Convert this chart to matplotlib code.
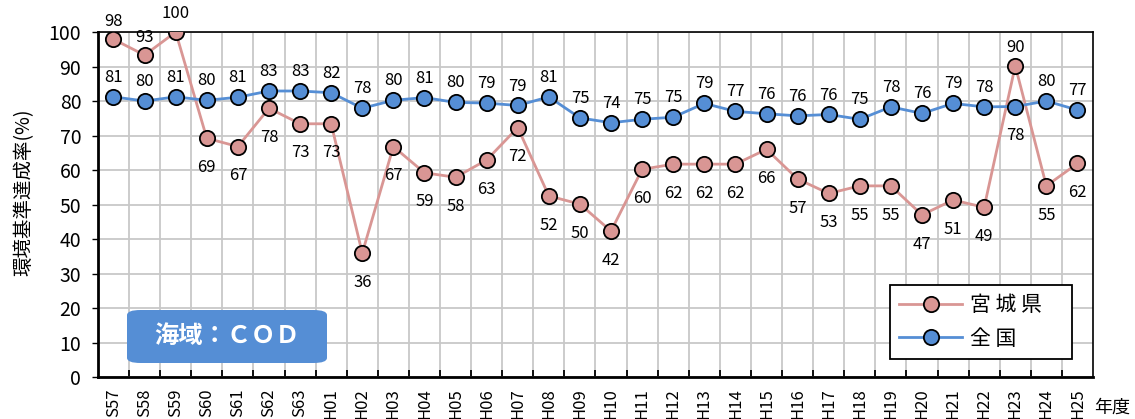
import matplotlib
matplotlib.use("Agg")
import matplotlib.pyplot as plt
from matplotlib.patches import FancyBboxPatch

plt.rcParams['font.family'] = ['Noto Sans CJK JP', 'DejaVu Sans']

years = ['S57', 'S58', 'S59', 'S60', 'S61', 'S62', 'S63',
         'H01', 'H02', 'H03', 'H04', 'H05', 'H06', 'H07', 'H08', 'H09', 'H10',
         'H11', 'H12', 'H13', 'H14', 'H15', 'H16', 'H17', 'H18', 'H19', 'H20',
         'H21', 'H22', 'H23', 'H24', 'H25']

miyagi = [97.9, 93.3, 100.0, 69.2, 66.8, 77.9, 73.4, 73.4, 35.9, 66.8, 59.2,
          57.9, 62.9, 72.3, 52.5, 50.1, 42.3, 60.2, 61.7, 61.7, 61.7, 66.0,
          57.4, 53.2, 55.4, 55.4, 47.0, 51.3, 49.2, 90.2, 55.4, 61.9]

zenkoku = [81.2, 80.0, 81.2, 80.2, 81.1, 82.9, 82.9, 82.4, 77.9, 80.2, 81.0,
           79.6, 79.4, 78.7, 81.2, 75.1, 73.7, 74.7, 75.3, 79.3, 77.0, 76.3,
           75.7, 76.1, 74.7, 78.3, 76.4, 79.3, 78.3, 78.4, 80.0, 77.4]

# which labels sit above the point
miyagi_above = ['S57', 'S58', 'S59', 'H23']
zenkoku_below = ['H23']

pink = '#D99694'
blue = '#558ED5'

fig = plt.figure(figsize=(11.35, 4.19), dpi=100)
ax = fig.add_axes([0.0863, 0.1002, 0.8767, 0.8234])

x = list(range(len(years)))
ax.plot(x, miyagi, color=pink, lw=2, marker='o', ms=11,
        mfc=pink, mec='black', mew=1.3, label='宮 城 県', zorder=3)
ax.plot(x, zenkoku, color=blue, lw=2, marker='o', ms=11,
        mfc=blue, mec='black', mew=1.3, label='全 国', zorder=4)

for i, y in enumerate(miyagi):
    dy = 13 if years[i] in miyagi_above else -21
    ax.annotate(str(round(y)), (i, y), xytext=(0, dy), textcoords='offset points',
                ha='center', va='center', fontsize=12, annotation_clip=False)
for i, y in enumerate(zenkoku):
    dy = -21 if years[i] in zenkoku_below else 14
    ax.annotate(str(round(y)), (i, y), xytext=(0, dy), textcoords='offset points',
                ha='center', va='center', fontsize=12, annotation_clip=False)

ax.set_xlim(-0.5, len(years) - 0.5)
ax.set_ylim(0, 100)
ax.set_yticks(range(0, 101, 10))
ax.tick_params(axis='y', labelsize=14, direction='out', length=4, width=1, pad=8)

ax.set_xticks(x)
ax.set_xticklabels(years, rotation=90, fontsize=12)
ax.tick_params(axis='x', which='major', length=0, pad=8)
ax.set_xticks([i + 0.5 for i in x[:-1]], minor=True)
ax.tick_params(axis='x', which='minor', direction='in', length=5, width=1.3)

ax.grid(axis='y', color='#c8c8c8', lw=1.3)
ax.grid(axis='x', which='minor', color='#c8c8c8', lw=1.3)
ax.set_axisbelow(True)

for side in ['left', 'bottom']:
    ax.spines[side].set_linewidth(2)
for side in ['top', 'right']:
    ax.spines[side].set_linewidth(1.2)

fig.text(24 / 1135, 0.54, '環境基準達成率(%)', rotation=90, ha='center',
         va='center', fontsize=14)
fig.text(1112 / 1135, 1 - 408 / 419, '年度', ha='center', va='center', fontsize=13)

leg = ax.legend(loc='upper left', bbox_to_anchor=(0.796, 0.055, 0.183, 0.212),
                mode='expand', fontsize=15,
                fancybox=False, edgecolor='black', framealpha=1,
                handlelength=3.0, borderpad=0.45, labelspacing=0.55,
                handletextpad=0.4, borderaxespad=0)
leg.get_frame().set_linewidth(1.3)

box = FancyBboxPatch((127 / 1135, 1 - 363 / 419), 200 / 1135, 53 / 419,
                     boxstyle='round,pad=0,rounding_size=0.012',
                     transform=fig.transFigure, facecolor=blue,
                     edgecolor='none', zorder=5)
fig.patches.append(box)
fig.text(227 / 1135, 1 - 336 / 419, '海域：ＣＯＤ', ha='center', va='center',
         color='white', fontsize=17.5, fontweight='bold', zorder=6)

plt.savefig('out.png', dpi=100)
plt.close()
